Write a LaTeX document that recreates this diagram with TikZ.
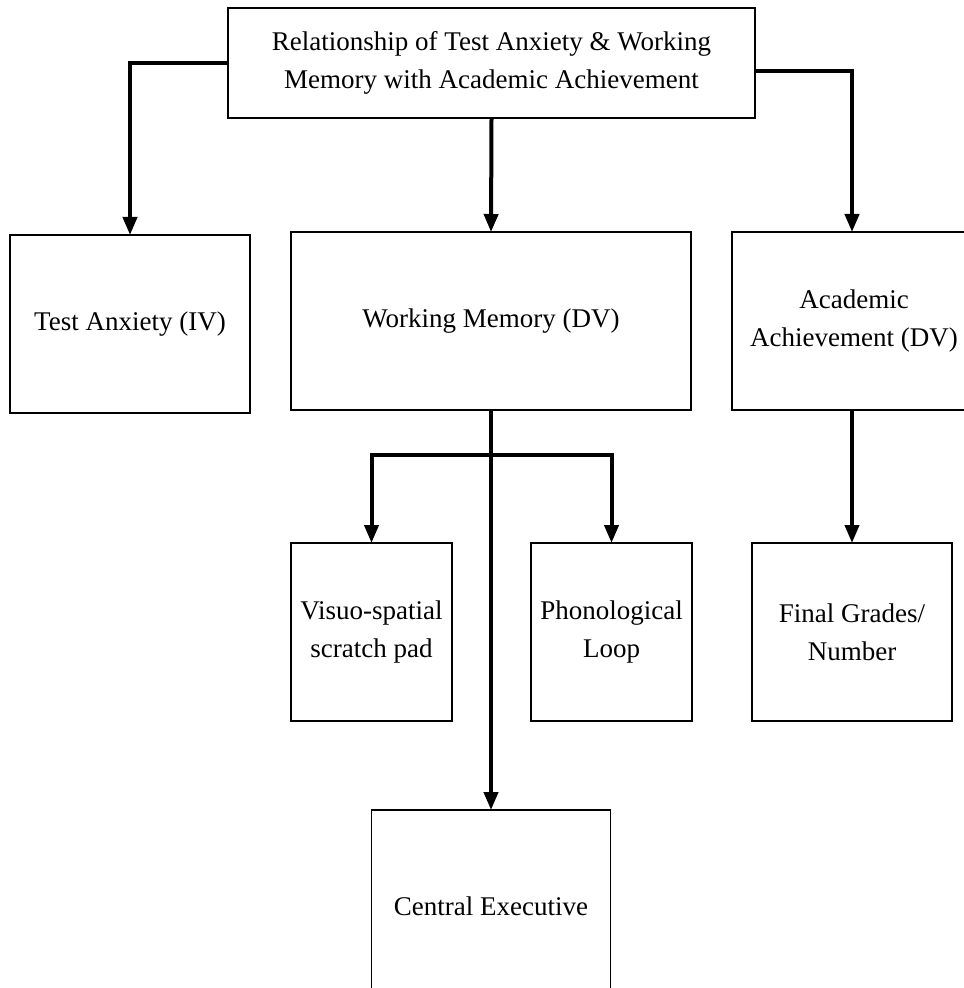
\documentclass[tikz,border=0pt]{standalone}
\usepackage{fontspec}
\setmainfont{Liberation Serif}
\usetikzlibrary{arrows.meta}
\begin{document}
\begin{tikzpicture}[x=0.5pt,y=-0.5pt,
  box/.style={draw, line width=0.7pt, inner sep=0pt, outer sep=0pt,
    minimum height=89pt, align=center,
    font=\fontsize{13.5}{19}\selectfont},
  titlebox/.style={box, line width=1.1pt, minimum width=263.5pt, minimum height=55pt},
  link/.style={line width=2pt, -{Triangle[width=7pt,length=9pt]}}]
\useasboundingbox (0,0) rectangle (963,988);

% boxes
\node[titlebox] (title) at (491.5,63)
  {Relationship of Test Anxiety \& Working\\Memory with Academic Achievement};
\node[box, minimum width=120pt] (anx) at (130,324) {Test Anxiety (IV)};
\node[box, minimum width=200pt] (wm) at (491,321) {Working Memory (DV)};
\node[box, minimum width=122pt] (acad) at (854,321) {Academic\\Achievement (DV)};
\node[box, minimum width=80.5pt] (vis) at (371.5,632) {Visuo-spatial\\scratch pad};
\node[box, minimum width=80.5pt] (pho) at (611.5,632) {Phonological\\Loop};
\node[box, minimum width=100pt] (fin) at (852,632) {Final Grades/\\Number};
\node[box, minimum width=119.5pt, minimum height=96pt] (ce) at (491,906) {Central Executive};

% connectors from the title
\draw[link] (title.west) -| (anx.north);
\draw[link] (title.south) -- (wm.north);
\draw[link] ([yshift=-4pt]title.east) -| (fin.north |- acad.north);

% working memory components
\coordinate (split) at (491,455);
\draw[link] (wm.south) -- (ce.north);
\draw[link] (split) -| (vis.north);
\draw[link] (split) -| (pho.north);

% achievement measure
\draw[link] (fin.north |- acad.south) -- (fin.north);
\end{tikzpicture}
\end{document}
